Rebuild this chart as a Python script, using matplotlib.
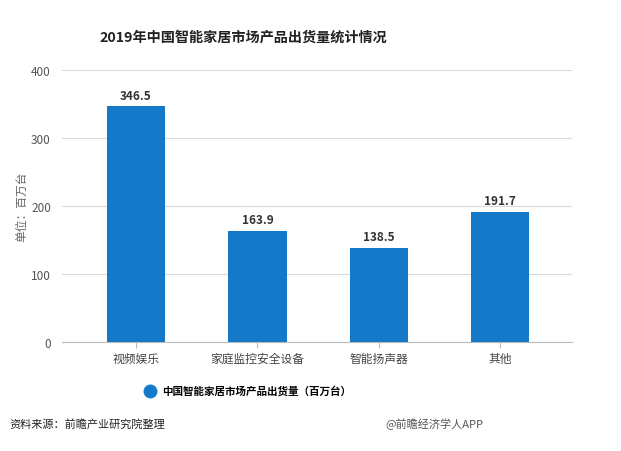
import matplotlib.pyplot as plt
import numpy as np

plt.rcParams['font.family'] = ['Noto Sans CJK SC', 'DejaVu Sans']

# Data
categories = ['视频娱乐', '家庭监控安全设备', '智能扬声器', '其他']
values = [346.5, 163.9, 138.5, 191.7]
series_name = '中国智能家居市场产品出货量（百万台）'
yticks = [0, 100, 200, 300, 400]

bar_color = '#1479c9'

fig = plt.figure(figsize=(6.21, 4.52), dpi=100)
ax = fig.add_axes([0.0998, 0.241, 0.8212, 0.602])

x = np.arange(len(categories))
ax.bar(x, values, width=0.48, color=bar_color, zorder=3, label=series_name)
for xi, v in zip(x, values):
    ax.text(xi, v + 7, f'{v}', ha='center', va='bottom', fontsize=8.5,
            fontweight='bold', color='#333333')

ax.set_xlim(-0.61, 3.59)
ax.set_ylim(0, 400)
ax.set_yticks(yticks)
ax.set_yticklabels([str(t) for t in yticks], fontsize=8.5, color='#555555')
ax.set_xticks(x)
ax.set_xticklabels(categories, fontsize=8.5, color='#444444')
ax.grid(axis='y', color='#d9d9d9', linewidth=0.8, zorder=0)
for s in ['top', 'right', 'left']:
    ax.spines[s].set_visible(False)
ax.spines['bottom'].set_color('#bbbbbb')
ax.tick_params(axis='y', length=0, pad=8)
ax.tick_params(axis='x', length=4, color='#bbbbbb', pad=3)

ax.set_ylabel('单位：百万台', fontsize=8.5, color='#666666', labelpad=2)

fig.text(0.392, 0.916, '2019年中国智能家居市场产品出货量统计情况', ha='center', va='center',
         fontsize=10.2, fontweight='bold', color='#222222')

# Legend
fig.legend(handles=[plt.Line2D([], [], marker='o', linestyle='', color=bar_color, markersize=9)],
           labels=[series_name], loc='center', bbox_to_anchor=(0.395, 0.133), frameon=False,
           prop={'size': 7.6, 'weight': 'bold'}, handletextpad=0.2)

fig.text(0.016, 0.062, '资料来源：前瞻产业研究院整理', ha='left', va='center', fontsize=8, color='#222222')
fig.text(0.62, 0.062, '@前瞻经济学人APP', ha='left', va='center', fontsize=8, color='#555555')

fig.savefig('out.png', dpi=100)
